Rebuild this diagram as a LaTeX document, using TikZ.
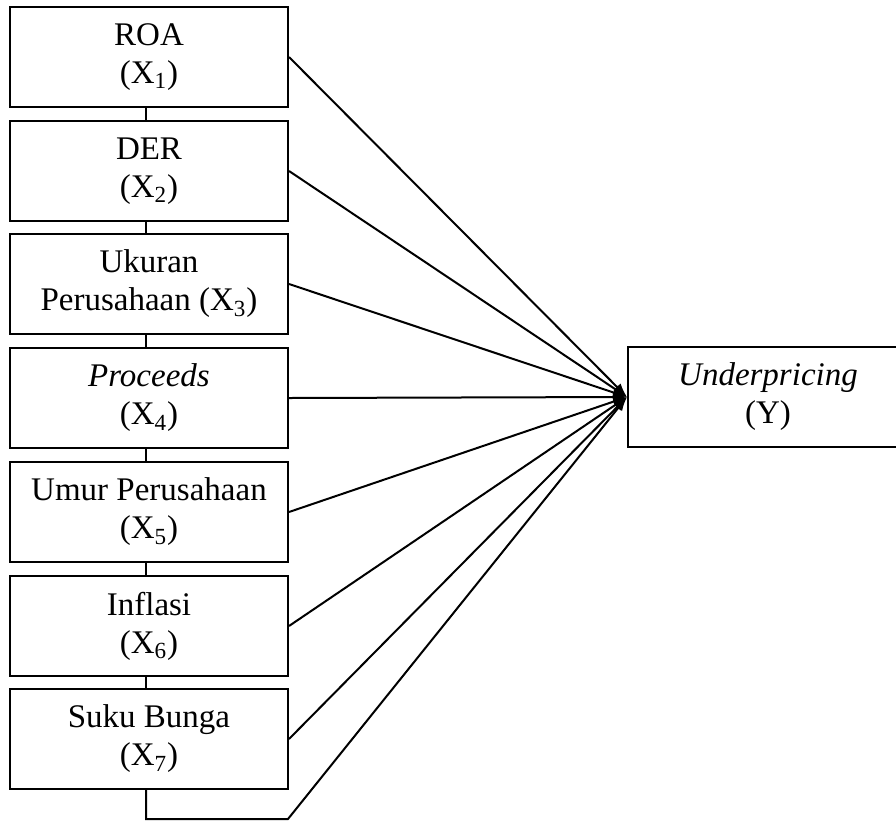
\documentclass[tikz,border=0pt]{standalone}
\usepackage{fontspec}
\setmainfont{Liberation Serif}
\usetikzlibrary{arrows.meta}
\begin{document}
\begin{tikzpicture}[x=0.5pt,y=-0.5pt,
  varbox/.style={draw,line width=1pt,minimum width=139pt,minimum height=50pt,inner sep=0pt,align=center,font=\fontsize{16.5}{19}\selectfont},
  link/.style={line width=1pt},
  arr/.style={line width=1pt,-{Latex[length=7pt,width=5pt]}}]
\useasboundingbox (0,0) rectangle (896,821);
\clip (0,0) rectangle (896,821);
\node[varbox] (x1) at (149,57) {ROA\\(X\textsubscript{1})};
\node[varbox] (x2) at (149,171) {DER\\(X\textsubscript{2})};
\node[varbox] (x3) at (149,284) {Ukuran\\Perusahaan (X\textsubscript{3})};
\node[varbox] (x4) at (149,398) {\textit{Proceeds}\\(X\textsubscript{4})};
\node[varbox] (x5) at (149,512) {Umur Perusahaan\\(X\textsubscript{5})};
\node[varbox] (x6) at (149,626) {Inflasi\\(X\textsubscript{6})};
\node[varbox] (x7) at (149,739) {Suku Bunga\\(X\textsubscript{7})};
\node[varbox,minimum width=140pt] (y) at (768,397) {\textit{Underpricing}\\(Y)};
\coordinate (c1) at (146,819);
\coordinate (c2) at (288,819);
\draw[link] (x1.south -| 146,0) -- (x2.north -| 146,0);
\draw[link] (x2.south -| 146,0) -- (x3.north -| 146,0);
\draw[link] (x3.south -| 146,0) -- (x4.north -| 146,0);
\draw[link] (x4.south -| 146,0) -- (x5.north -| 146,0);
\draw[link] (x5.south -| 146,0) -- (x6.north -| 146,0);
\draw[link] (x6.south -| 146,0) -- (x7.north -| 146,0);
\foreach \n in {x1,x2,x3,x4,x5,x6,x7}{
  \draw[arr] (\n.east) -- (y.west);
}
\draw[arr] (x7.south -| 146,0) -- (c1) -- (c2) -- (y.west);
\end{tikzpicture}
\end{document}
